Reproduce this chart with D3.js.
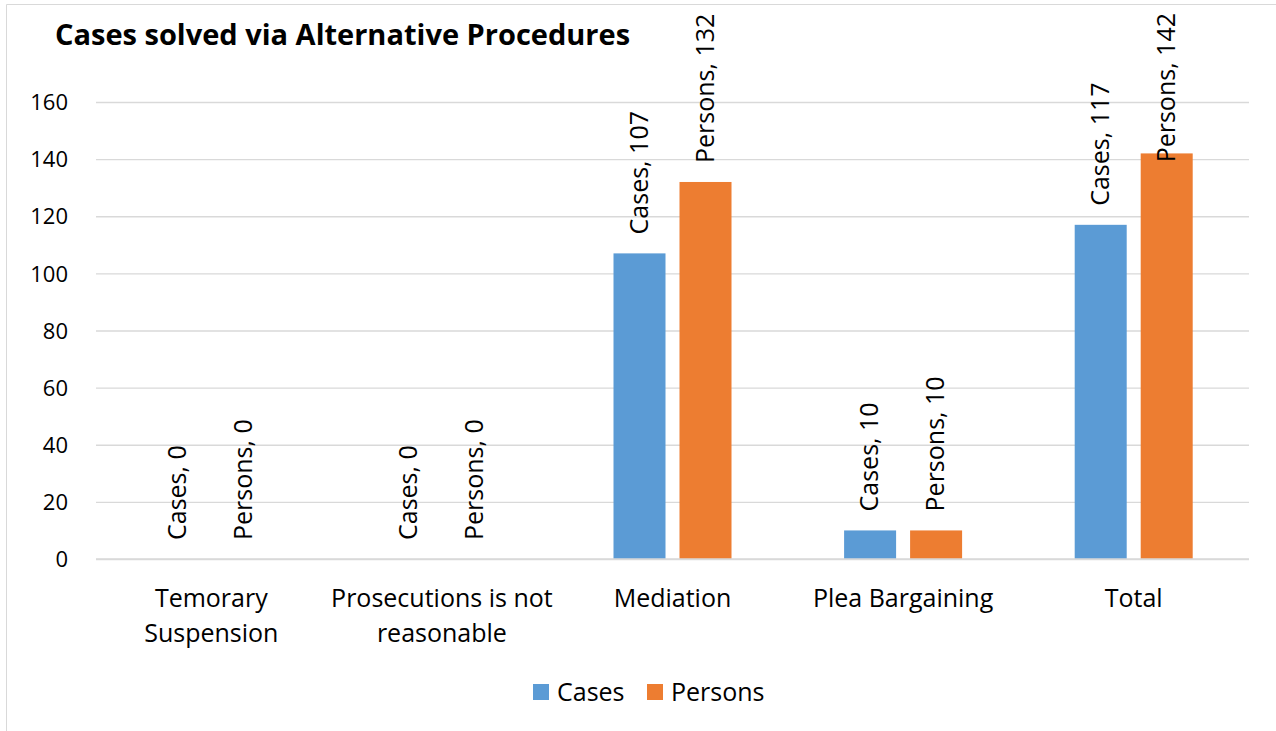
<!DOCTYPE html>
<html><head><meta charset="utf-8">
<script src="https://cdn.jsdelivr.net/npm/d3@7"></script>
<style>body{margin:0;background:#fff}svg{display:block}text{font-family:"Open Sans",sans-serif;fill:#000}</style>
</head><body><svg id="c" width="1276" height="731"></svg>
<script>
const categories = [["Temorary","Suspension"],["Prosecutions is not","reasonable"],["Mediation"],["Plea Bargaining"],["Total"]];
const seriesNames = ["Cases","Persons"];
const cases = [0,0,107,10,117];
const persons = [0,0,132,10,142];
const yTicks = [0,20,40,60,80,100,120,140,160];
const colors = ["#5b9bd5","#ed7d31"];

(function(){
const svg = d3.select("#c");
const pl = 96, pr = 1249, pt = 102, pb = 559;
const fs = 25;
const x0 = d3.scaleBand().domain(d3.range(categories.length)).range([pl,pr]);
const y = d3.scaleLinear().domain([0,160]).range([pb,pt]);

svg.append("line").attr("x1",6.5).attr("x2",1276).attr("y1",4.5).attr("y2",4.5).attr("stroke","#d9d9d9");
svg.append("line").attr("x1",6.5).attr("x2",6.5).attr("y1",4.5).attr("y2",731).attr("stroke","#d9d9d9");

const yAxis = d3.axisLeft(y).tickValues(yTicks).tickSize(-(pr-pl)).tickPadding(28);
const ga = svg.append("g").attr("transform",`translate(${pl},0)`).call(yAxis);
ga.select(".domain").remove();
ga.selectAll(".tick line").attr("stroke","#d9d9d9").attr("stroke-width",1.3);
ga.selectAll(".tick text").attr("font-size",22).attr("fill","#000").attr("font-family","'Open Sans', sans-serif").attr("dy","0.35em");

const data = categories.map((c,i)=>({i, vals:[cases[i],persons[i]]}));
const barW = 52, gap = 14;
const offs = [-(gap/2+barW/2), gap/2+barW/2];
const g = svg.append("g");
data.forEach(d=>{
  const cx = x0(d.i)+x0.bandwidth()/2;
  d.vals.forEach((v,k)=>{
    const bx = cx+offs[k]-barW/2;
    if(v>0) g.append("rect").attr("x",bx).attr("y",y(v)).attr("width",barW).attr("height",y(0)-y(v)).attr("fill",colors[k]);
    const label = `${seriesNames[k]}, ${v}`;
    const t = g.append("text").attr("font-size",fs).text(label);
    const len = t.node().getComputedTextLength();
    let yb = y(v)-19;
    if (yb-len < 13) yb = 13+len;
    t.attr("transform",`translate(${cx+offs[k]+8},${yb}) rotate(-90)`);
  });
});
svg.append("line").attr("x1",pl).attr("x2",pr).attr("y1",y(0)).attr("y2",y(0)).attr("stroke","#d9d9d9").attr("stroke-width",1.3);

categories.forEach((lines,i)=>{
  const cx = x0(i)+x0.bandwidth()/2;
  const t = svg.append("text").attr("text-anchor","middle").attr("font-size",fs);
  lines.forEach((l,j)=>t.append("tspan").attr("x",cx).attr("y",607+j*35).text(l));
});

svg.append("text").attr("x",55).attr("y",45).attr("font-size",29).attr("font-weight","bold").text("Cases solved via Alternative Procedures");

const lg = svg.append("g");
const lx = [533,647];
seriesNames.forEach((s,k)=>{
  lg.append("rect").attr("x",lx[k]).attr("y",684).attr("width",16).attr("height",16).attr("fill",colors[k]);
  lg.append("text").attr("x",lx[k]+24).attr("y",701).attr("font-size",25).text(s);
});
})();
</script></body></html>
